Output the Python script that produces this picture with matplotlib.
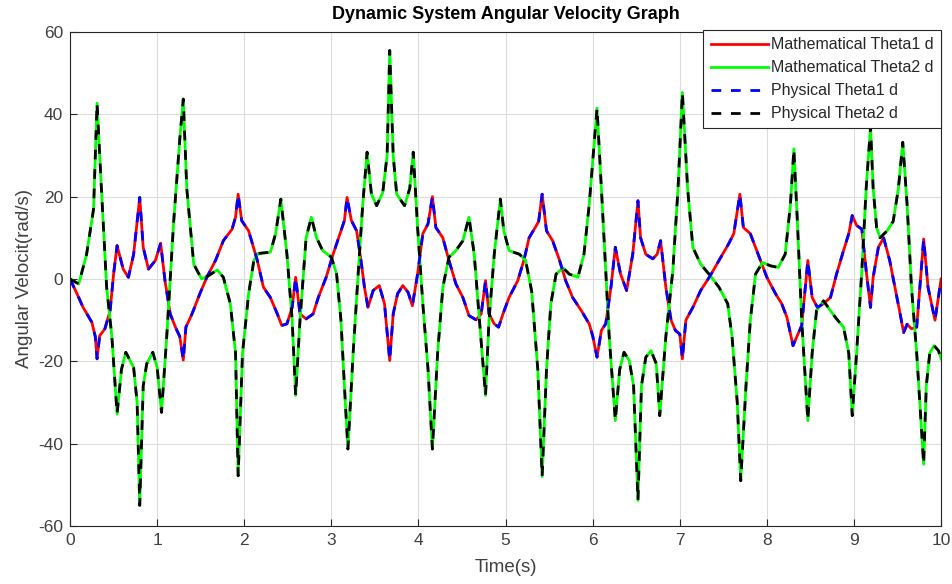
import matplotlib
matplotlib.use('Agg')
import matplotlib.pyplot as plt

plt.rcParams['font.family'] = ['Liberation Sans', 'DejaVu Sans']
plt.rcParams['axes.unicode_minus'] = False

# theta1 dot (rad/s)
t1 = [0, 0.08, 0.15, 0.25, 0.29, 0.31, 0.34, 0.40, 0.46, 0.50, 0.54, 0.61, 0.67, 0.73, 0.77, 0.80,
      0.84, 0.90, 0.98, 1.04, 1.09, 1.15, 1.21, 1.26, 1.30, 1.33, 1.40, 1.49, 1.57, 1.67, 1.76, 1.86,
      1.90, 1.93, 1.97, 2.05, 2.15, 2.22, 2.30, 2.38, 2.43, 2.49, 2.55, 2.59, 2.64, 2.71, 2.79, 2.85,
      2.94, 3.02, 3.10, 3.15, 3.18, 3.23, 3.29, 3.34, 3.38, 3.42, 3.48, 3.55, 3.61, 3.67, 3.71, 3.76,
      3.82, 3.88, 3.93, 3.99, 4.05, 4.11, 4.16, 4.20, 4.28, 4.35, 4.43, 4.51, 4.58, 4.66, 4.72, 4.77,
      4.81, 4.87, 4.92, 4.97, 5.04, 5.14, 5.21, 5.27, 5.34, 5.38, 5.42, 5.47, 5.54, 5.62, 5.69, 5.77,
      5.87, 5.96, 6.00, 6.05, 6.10, 6.15, 6.21, 6.26, 6.32, 6.39, 6.46, 6.52, 6.55, 6.61, 6.69, 6.74,
      6.78, 6.84, 6.90, 6.95, 7.00, 7.03, 7.07, 7.15, 7.24, 7.35, 7.45, 7.56, 7.62, 7.69, 7.73, 7.81,
      7.90, 8.00, 8.10, 8.17, 8.23, 8.30, 8.34, 8.40, 8.47, 8.52, 8.58, 8.65, 8.73, 8.80, 8.88, 8.94,
      8.98, 9.03, 9.09, 9.14, 9.19, 9.22, 9.28, 9.34, 9.41, 9.47, 9.53, 9.57, 9.61, 9.66, 9.72, 9.80,
      9.85, 9.93, 10.0]
w1 = [0, -3.6, -6.9, -10.5, -14, -19.4, -13.8, -12.1, -7.7, 1.2, 8.1, 2.4, 0.4, 6, 14, 19.8,
      7.7, 2.4, 4.5, 8.7, -0.4, -8.5, -11.7, -14, -19.7, -11.7, -8.5, -3.6, 0.4, 4.5, 9.3, 12.1,
      15, 20.6, 14.2, 11.7, 4.5, -2, -4.5, -8.5, -11.3, -10.9, -6.9, 0.4, -8.5, -9.7, -8.5, -4.5,
      0.4, 6, 11, 14.2, 19.8, 14.2, 11.7, 4.5, -2, -6.9, -2.8, -1.6, -6, -19.8, -8.5, -3.6,
      -1.6, -3.2, -6.5, 1.2, 11, 13.4, 20, 12.5, 10, 4.5, -1.2, -4.5, -8.9, -9.9, -8.5, -0.4,
      -8.5, -10.9, -11.7, -8.5, -4.5, -0.4, 4.5, 10, 12.5, 14, 20.6, 11.7, 9.3, 4.5, -0.4, -4.5,
      -7.7, -10.9, -13.8, -19, -12.5, -10.9, -2, 7.7, 1.2, -2.8, 6, 19, 10, 6, 4.9, 6,
      9.3, -2, -10, -12.5, -13.4, -19.4, -10, -6.9, -2.8, 0.8, 4.5, 8.5, 11, 20.6, 12.5, 11,
      6, 0.4, -3.6, -6, -9.3, -16.2, -14.2, -11.3, 4.5, -4.5, -6.9, -6, -4.5, 1.2, 6.9, 11,
      15.4, 13, 12.1, 2, -6.9, 0.4, 7.7, 10, 4.5, -2, -8.5, -13, -11, -12.1, -11.7, 9.7,
      -2, -10, 0]

# theta2 dot (rad/s)
t2 = [0, 0.10, 0.19, 0.27, 0.31, 0.36, 0.42, 0.48, 0.54, 0.59, 0.64, 0.73, 0.77, 0.80, 0.84, 0.88,
      0.95, 1.00, 1.05, 1.11, 1.19, 1.26, 1.30, 1.34, 1.42, 1.51, 1.59, 1.69, 1.76, 1.84, 1.90, 1.93,
      1.98, 2.05, 2.11, 2.16, 2.30, 2.36, 2.42, 2.49, 2.55, 2.59, 2.64, 2.71, 2.77, 2.83, 2.90, 3.00,
      3.06, 3.11, 3.15, 3.19, 3.25, 3.31, 3.36, 3.41, 3.46, 3.52, 3.59, 3.64, 3.67, 3.71, 3.75, 3.84,
      3.90, 3.94, 3.99, 4.05, 4.11, 4.16, 4.22, 4.28, 4.35, 4.43, 4.51, 4.58, 4.64, 4.70, 4.77, 4.81,
      4.87, 4.94, 4.98, 5.04, 5.16, 5.23, 5.30, 5.37, 5.42, 5.47, 5.52, 5.58, 5.66, 5.73, 5.83, 5.90,
      5.96, 6.05, 6.10, 6.15, 6.19, 6.26, 6.31, 6.36, 6.42, 6.47, 6.52, 6.56, 6.61, 6.67, 6.73, 6.77,
      6.84, 6.92, 6.98, 7.03, 7.09, 7.15, 7.24, 7.35, 7.45, 7.55, 7.60, 7.66, 7.70, 7.76, 7.81, 7.87,
      7.95, 8.04, 8.13, 8.21, 8.27, 8.31, 8.35, 8.40, 8.47, 8.52, 8.57, 8.65, 8.73, 8.80, 8.88, 8.94,
      8.98, 9.03, 9.09, 9.14, 9.19, 9.22, 9.26, 9.30, 9.38, 9.45, 9.51, 9.56, 9.61, 9.66, 9.72, 9.80,
      9.83, 9.87, 9.92, 9.97, 10.0]
w2 = [0, -1.2, 6, 17, 42.7, 22, -2, -14, -32.8, -22, -17.8, -21.5, -30, -55, -26, -20.6,
      -17.8, -21.5, -32.4, -14, 14, 34, 43.7, 22, 3.6, 0, 0.8, 2.2, 0.4, -6, -18, -47.8,
      -18, -3.6, 4.5, 6.2, 6.5, 11, 19.4, 6, -10, -28.3, -10, 10, 15, 10, 6.9, 5.3,
      1.2, -10, -26, -41.3, -18, 2, 18, 30.8, 20.6, 17.8, 21, 30, 55.5, 30, 20.6, 17.8,
      22, 30.8, 12.5, -6, -22, -41.3, -18, -2, 5.3, 6.9, 9.3, 15, 6, -10, -28.3, -10,
      6, 19.4, 11.7, 6.9, 6, 4.5, -3, -22, -48, -22, -6, 1.2, 2.7, 1.2, 0.4, 6,
      18, 41.5, 22, 2, -14, -34.4, -22, -17.8, -19.8, -26, -53.8, -26, -19, -17.4, -20.6, -33.2,
      -14, 2, 22, 45.3, 22, 7.7, 3.6, 0.8, -2, -6, -14, -30, -49, -26, -10, 1.2,
      4, 3.2, 2.8, 6, 18, 31.6, 14, -10, -34.4, -18, -7.7, -5.3, -7.7, -9.7, -11.7, -18,
      -33.2, -18, 2, 22, 37, 22, 12.5, 10, 11.7, 14, 22, 33.2, 18, -2, -18, -45,
      -26, -18, -16.2, -17.4, -19.4]

# physical model lies on top of the mathematical one
t1_phys, w1_phys = t1, w1
t2_phys, w2_phys = t2, w2

fig = plt.figure(figsize=(9.53, 5.84), dpi=100)
ax = fig.add_axes([0.0735, 0.0993, 0.914, 0.846])

ax.plot(t1, w1, color='#ff0000', lw=2, label='Mathematical Theta1 d')
ax.plot(t2, w2, color='#00ff00', lw=2, label='Mathematical Theta2 d')
ax.plot(t1_phys, w1_phys, color='#0000ff', lw=2, ls=(0, (3.5, 3.5)), label='Physical Theta1 d')
ax.plot(t2_phys, w2_phys, color='black', lw=2, ls=(0, (3.5, 3.5)), label='Physical Theta2 d')

ax.set_xlim(0, 10)
ax.set_ylim(-60, 60)
ax.set_xticks(range(0, 11))
ax.set_yticks(range(-60, 61, 20))
ax.grid(True, color='#dcdcdc', lw=0.8)
ax.tick_params(direction='in', length=5, labelsize=12.5, colors='#262626',
               labelcolor='#404040', top=False, right=False, pad=5)
for s in ax.spines.values():
    s.set_color('#262626')
    s.set_linewidth(0.8)

ax.set_title('Dynamic System Angular Velocity Graph', fontsize=13, fontweight='bold', pad=9)
ax.set_xlabel('Time(s)', fontsize=13.5, color='#404040', labelpad=8)
ax.set_ylabel('Angular Velocit(rad/s)', fontsize=13.5, color='#404040', labelpad=4)

leg = ax.legend(loc='upper right', fontsize=11.5, frameon=True, fancybox=False,
                edgecolor='#262626', framealpha=1, handlelength=3.6, handletextpad=0.2,
                borderaxespad=0.0, labelspacing=0.5, borderpad=0.45,
                bbox_to_anchor=(1.0, 1.004))
leg.get_frame().set_linewidth(0.8)
for txt in leg.get_texts():
    txt.set_color('#262626')

fig.savefig('out.png', dpi=100)
